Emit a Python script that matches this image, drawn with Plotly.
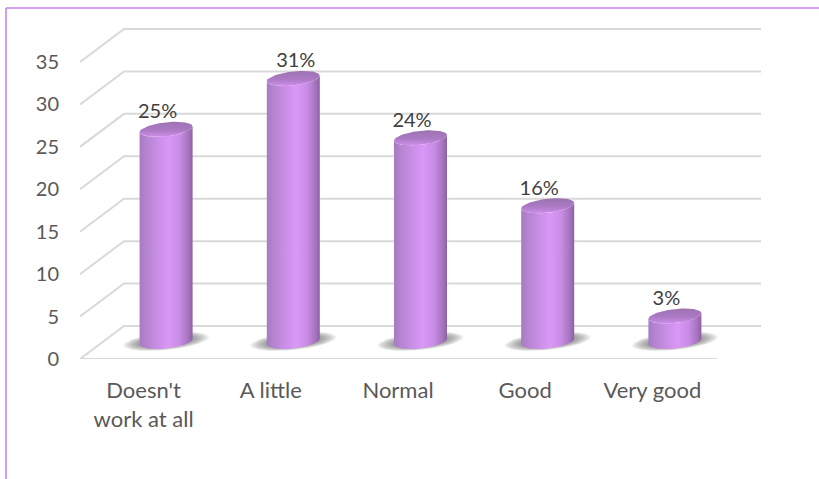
import numpy as np
import plotly.graph_objects as go

categories = ["Doesn't<br>work at all", "A little", "Normal", "Good", "Very good"]
values = [25, 31, 24, 16, 3]
labels = ["25%", "31%", "24%", "16%", "3%"]
y_ticks = [0, 5, 10, 15, 20, 25, 30, 35]

W, H = 819, 479
L, R, T, B = 80, 717, 4, 359   # front wall pixel box
PX_CAT = 127.2
PX_VAL = 8.486
X0_PX = 143.6

def dx(p): return p / PX_CAT
def dy(p): return p / PX_VAL

x_lo = (L - X0_PX) / PX_CAT
x_hi = (W - X0_PX) / PX_CAT
y_hi = (B - T) / PX_VAL

DEPTH_X, DEPTH_Y = dx(44), dy(33)
x_front_end = (R - X0_PX) / PX_CAT

BAR_DX = dx(22.5)
BASE = dy(17.5)
A, Bb, TILT = dx(26.5), dy(7), dy(2.8)

SIDE = [[0, "#a67ac2"], [0.1, "#b283cd"], [0.35, "#cb8ee8"], [0.55, "#da97f7"],
        [0.75, "#c98de6"], [0.92, "#a673bf"], [1, "#8a62a0"]]
CAP = [[0, "#d091ea"], [0.18, "#c085da"], [0.45, "#ab7ac3"], [1, "#9e72b2"]]

fig = go.Figure()

GRID = dict(color="#d9d9d9", width=2)
for t in y_ticks:
    if t == 0:
        fig.add_trace(go.Scatter(x=[x_lo, x_front_end], y=[t, t], mode="lines", line=GRID,
                                 hoverinfo="skip", showlegend=False, cliponaxis=False))
    fig.add_trace(go.Scatter(
        x=[x_lo, x_lo + DEPTH_X, x_front_end + DEPTH_X],
        y=[t, t + DEPTH_Y, t + DEPTH_Y],
        mode="lines", line=GRID, hoverinfo="skip", showlegend=False, cliponaxis=False))

th = np.linspace(0, 2 * np.pi, 73)

for i, v in enumerate(values):
    cx = i + BAR_DX
    for s in np.linspace(1.03, 0.6, 9):
        fig.add_trace(go.Scatter(
            x=cx + dx(41.5) * s * np.cos(th),
            y=BASE + dy(8.5) * s * np.sin(th) + dy(4) * s * np.cos(th) + dy(0.2),
            mode="lines", line=dict(width=0), fill="toself",
            fillcolor="rgba(100,100,100,0.11)", hoverinfo="skip", showlegend=False))

front = np.linspace(np.pi, 2 * np.pi, 37)
for i, v in enumerate(values):
    cx = i + BAR_DX
    top = BASE + v
    xs = cx + A * np.cos(front)
    y_bot = BASE + Bb * np.sin(front) + TILT * np.cos(front)
    y_top = top + Bb * np.sin(front) + TILT * np.cos(front)
    fig.add_trace(go.Scatter(
        x=np.concatenate([xs, xs[::-1]]),
        y=np.concatenate([y_top, y_bot[::-1]]),
        mode="lines", line=dict(width=0), fill="toself",
        fillgradient=dict(type="horizontal", colorscale=SIDE),
        hoverinfo="skip", showlegend=False))
    fig.add_trace(go.Scatter(
        x=cx + A * np.cos(th),
        y=top + Bb * np.sin(th) + TILT * np.cos(th),
        mode="lines", line=dict(width=0), fill="toself",
        fillgradient=dict(type="vertical", colorscale=CAP),
        hoverinfo="skip", showlegend=False))

fig.add_trace(go.Scatter(
    x=[i + dx(14) + (dx(11) if v == max(values) else 0) for i, v in enumerate(values)],
    y=[BASE + v + dy(16) for v in values],
    mode="text", text=labels, textposition="middle center",
    textfont=dict(family="Lato", size=20, color="#404040"),
    hoverinfo="skip", showlegend=False, cliponaxis=False))

fx = lambda p: (p - L) / (W - L)
fy = lambda p: (B - p) / (B - T)
FRAME = dict(color="#c67fe6", width=1.5)
fig.add_shape(type="line", xref="paper", yref="paper", x0=fx(6), x1=fx(W), y0=fy(8), y1=fy(8), line=FRAME)
fig.add_shape(type="line", xref="paper", yref="paper", x0=fx(6), x1=fx(6), y0=fy(8), y1=fy(H), line=FRAME)

fig.update_layout(
    width=W, height=H,
    margin=dict(l=L, r=0, t=T, b=H - B, autoexpand=False),
    paper_bgcolor="white", plot_bgcolor="white",
    showlegend=False,
    font=dict(family="Lato", size=20, color="#595959"),
    xaxis=dict(range=[x_lo, x_hi], tickmode="array", tickvals=list(range(len(categories))),
               ticktext=categories, showgrid=False, zeroline=False, showline=False,
               ticks="", ticklabelstandoff=16, tickangle=0, tickfont=dict(size=22)),
    yaxis=dict(range=[0, y_hi], tickmode="array", tickvals=y_ticks, showgrid=False,
               zeroline=False, showline=False, ticks="", ticklabelstandoff=20),
)

fig.write_html("out.html", config={"displayModeBar": False},
               post_script="document.body.style.margin='0';document.documentElement.style.overflow='hidden';")
